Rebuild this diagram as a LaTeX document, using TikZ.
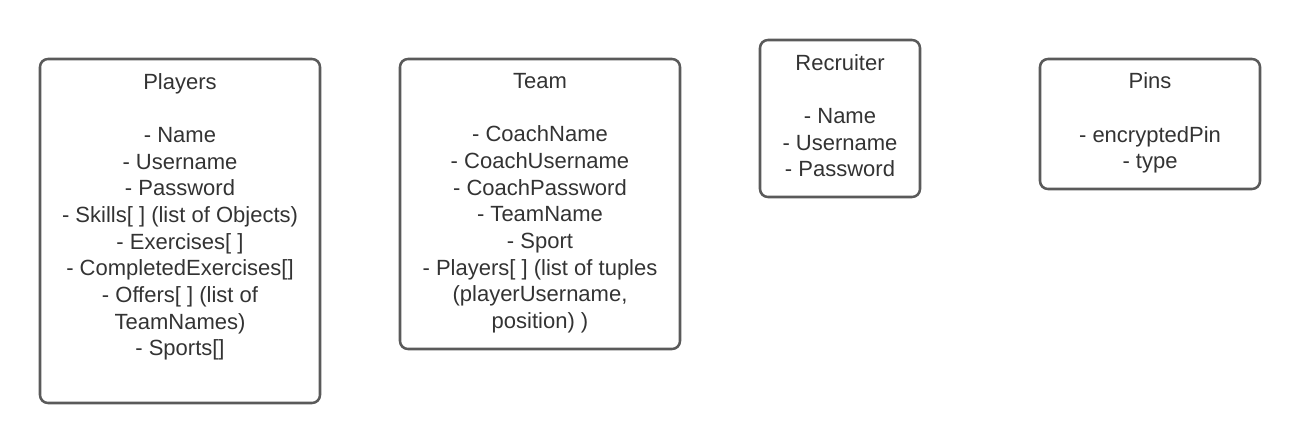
\documentclass[tikz,border=0pt]{standalone}
\usepackage{fontspec}
\setmainfont{Liberation Sans}
\usepackage{tikz}
\usepackage{xcolor}
\definecolor{boxline}{HTML}{5A5A5A}
\definecolor{boxtext}{HTML}{333333}

\begin{document}
\begin{tikzpicture}[x=0.75pt, y=-0.75pt,
  entity/.style={draw=boxline, line width=1.9pt, rounded corners=6pt},
  fields/.style={anchor=north, align=center, inner sep=0pt, text=boxtext, font=\fontsize{16.5}{20}\selectfont}]
\useasboundingbox (0,0) rectangle (1300,443);
\draw[entity] (40,59) rectangle (320,403);
\draw[entity] (400,59) rectangle (680,349);
\draw[entity] (760,40) rectangle (920,197);
\draw[entity] (1040,59) rectangle (1260,189);
\node[fields] (players) at (180,73) {Players\\[20pt]- Name\\- Username\\- Password\\- Skills[ ] (list of Objects)\\- Exercises[ ]\\- CompletedExercises[]\\- Offers[ ] (list of\\TeamNames)\\- Sports[]};
\node[fields] (team) at (540,73) {Team\\[20pt]- CoachName\\- CoachUsername\\- CoachPassword\\- TeamName\\- Sport\\- Players[ ] (list of tuples\\(playerUsername,\\position) )};
\node[fields] (recruiter) at (840,54) {Recruiter\\[20pt]- Name\\- Username\\- Password};
\node[fields] (pins) at (1150,72.5) {Pins\\[20pt]- encryptedPin\\- type};
\end{tikzpicture}
\end{document}
